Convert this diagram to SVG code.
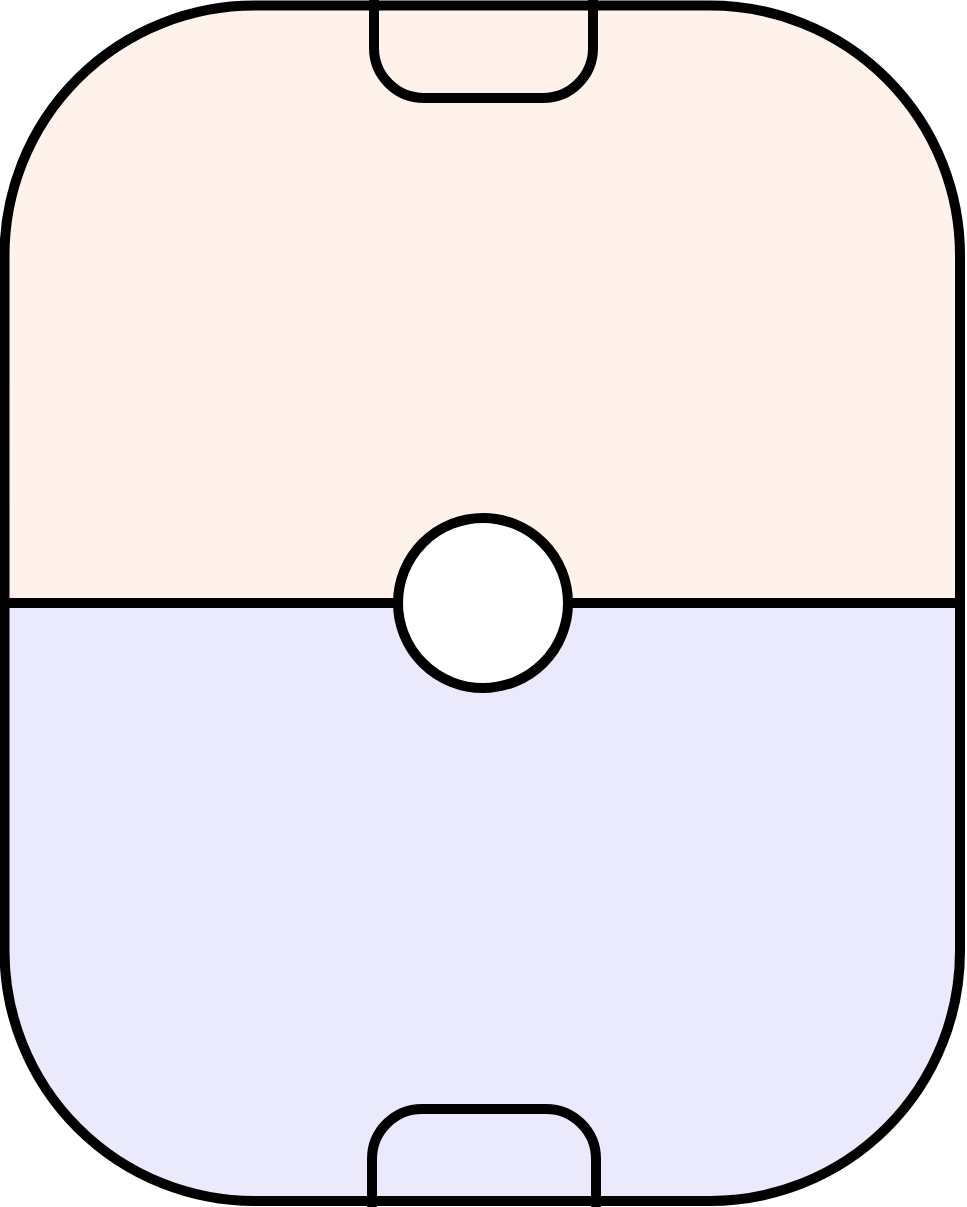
<svg xmlns="http://www.w3.org/2000/svg" width="967" height="1207" viewBox="0 0 967 1207">
  <style>
    .ln { fill: none; stroke: #000; stroke-width: 10; }
  </style>
  <defs>
    <clipPath id="rink">
      <rect x="4.5" y="5.5" width="955.5" height="1195.5" rx="250" ry="250"/>
    </clipPath>
  </defs>
  <g id="field" clip-path="url(#rink)">
    <rect x="0" y="0" width="967" height="603" fill="#fff2ea"/>
    <rect x="0" y="603" width="967" height="604" fill="#eaeafc"/>
  </g>
  <g id="outline">
    <rect class="ln" x="4.5" y="5.5" width="955.5" height="1195.5" rx="250" ry="250"/>
  </g>
  <g id="center-line">
    <line class="ln" x1="4.5" y1="603" x2="960" y2="603"/>
  </g>
  <g id="top-goal">
    <path class="ln" d="M374,0 V48 A50,50 0 0 0 424,98 H543 A50,50 0 0 0 593,48 V0"/>
  </g>
  <g id="bottom-goal">
    <path class="ln" d="M372,1207 V1159 A50,50 0 0 1 422,1109 H546 A50,50 0 0 1 596,1159 V1207"/>
  </g>
  <g id="center-circle">
    <circle cx="483" cy="603" r="85" fill="#ffffff" stroke="#000" stroke-width="10"/>
  </g>
</svg>
